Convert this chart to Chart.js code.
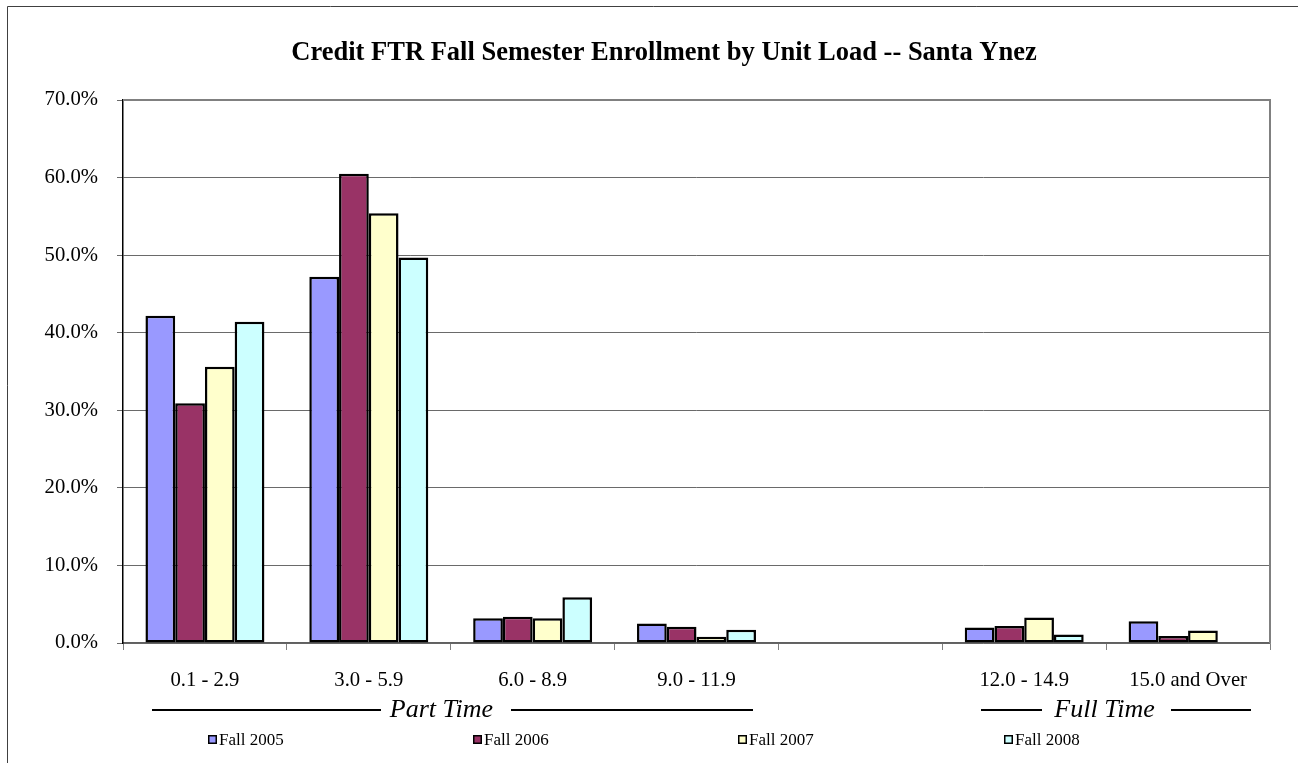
<!DOCTYPE html>
<html>
<head>
<meta charset="utf-8">
<script src="https://cdn.jsdelivr.net/npm/chart.js@4.4.1/dist/chart.umd.min.js"></script>
<style>
  html, body { margin: 0; padding: 0; background: #ffffff; }
  #wrap { width: 1298px; height: 763px; position: relative; }
</style>
</head>
<body>
<div id="wrap"><canvas id="c" width="1298" height="763"></canvas></div>
<script>
const TITLE = 'Credit FTR Fall Semester Enrollment by Unit Load -- Santa Ynez';
const categories = ['0.1 - 2.9', '3.0 - 5.9', '6.0 - 8.9', '9.0 - 11.9', '', '12.0 - 14.9', '15.0 and Over'];
const seriesNames = ['Fall 2005', 'Fall 2006', 'Fall 2007', 'Fall 2008'];
const fall2005 = [42.2, 47.2, 3.2, 2.5, null, 2.0, 2.8];
const fall2006 = [30.9, 60.5, 3.4, 2.1, null, 2.2, 0.9];
const fall2007 = [35.6, 55.4, 3.2, 0.8, null, 3.3, 1.6];
const fall2008 = [41.4, 49.7, 5.9, 1.7, null, 1.1, null];
const yTicks = [0, 10, 20, 30, 40, 50, 60, 70];
const groupLabels = ['Part Time', 'Full Time'];
const colors = ['#9999FF', '#993366', '#FFFFCC', '#CCFFFF'];

const FONT = "'Liberation Serif', 'Times New Roman', serif";

const decorations = {
  id: 'decorations',
  beforeDraw(chart) {
    const ctx = chart.ctx;
    ctx.save();
    ctx.fillStyle = '#ffffff';
    ctx.fillRect(0, 0, chart.width, chart.height);
    ctx.restore();
  },
  afterDraw(chart) {
    const ctx = chart.ctx;
    const a = chart.chartArea;
    ctx.save();
    // outer chart border
    ctx.strokeStyle = '#404040';
    ctx.lineWidth = 1;
    ctx.beginPath();
    ctx.moveTo(7.5, 770);
    ctx.lineTo(7.5, 6.5);
    ctx.lineTo(1310, 6.5);
    ctx.stroke();
    // title
    ctx.fillStyle = '#000000';
    ctx.font = 'bold 26.5px ' + FONT;
    ctx.textAlign = 'center';
    ctx.textBaseline = 'alphabetic';
    ctx.fillText(TITLE, 664, 60);
    // plot frame top & right
    ctx.strokeStyle = '#808080';
    ctx.lineWidth = 2;
    ctx.beginPath();
    ctx.moveTo(a.left, a.top);
    ctx.lineTo(a.right, a.top);
    ctx.lineTo(a.right, a.bottom);
    ctx.stroke();
    // group annotations
    ctx.fillStyle = '#000000';
    ctx.strokeStyle = '#000000';
    ctx.lineWidth = 2;
    ctx.font = 'italic 26px ' + FONT;
    ctx.textAlign = 'center';
    ctx.textBaseline = 'alphabetic';
    const groups = [
      { label: groupLabels[0], cx: 441.5, l1: [152, 381], l2: [511, 753] },
      { label: groupLabels[1], cx: 1104.5, l1: [981, 1042], l2: [1171, 1251] }
    ];
    groups.forEach(g => {
      ctx.beginPath();
      ctx.moveTo(g.l1[0], 710);
      ctx.lineTo(g.l1[1], 710);
      ctx.moveTo(g.l2[0], 710);
      ctx.lineTo(g.l2[1], 710);
      ctx.stroke();
      ctx.fillText(g.label, g.cx, 717);
    });
    // legend
    const lx = [208, 473, 738, 1004];
    ctx.font = '17px ' + FONT;
    ctx.textAlign = 'left';
    ctx.textBaseline = 'middle';
    chart.data.datasets.forEach((ds, i) => {
      ctx.fillStyle = ds.backgroundColor;
      ctx.fillRect(lx[i], 735, 9, 9);
      ctx.strokeStyle = '#000000';
      ctx.lineWidth = 1.5;
      ctx.strokeRect(lx[i] + 0.75, 735.75, 7.5, 7.5);
      ctx.fillStyle = '#000000';
      ctx.fillText(ds.label, lx[i] + 11, 740.5);
    });
    ctx.restore();
  }
};

const datasets = [fall2005, fall2006, fall2007, fall2008].map((d, i) => ({
  label: seriesNames[i],
  data: d,
  backgroundColor: colors[i],
  borderColor: '#000000',
  borderWidth: 2.5,
  borderSkipped: false,
  categoryPercentage: 0.726,
  barPercentage: 1.0
}));

new Chart(document.getElementById('c'), {
  type: 'bar',
  data: { labels: categories, datasets },
  plugins: [decorations],
  options: {
    responsive: false,
    animation: false,
    devicePixelRatio: 1,
    layout: { padding: { left: 0, right: 28, top: 100, bottom: 0 } },
    plugins: {
      legend: { display: false },
      tooltip: { enabled: false },
      title: { display: false }
    },
    scales: {
      x: {
        offset: true,
        grid: { display: true, offset: true, drawOnChartArea: false, drawTicks: true, tickLength: 7, color: '#808080', lineWidth: 1 },
        border: { display: true, color: '#606060', width: 1.5 },
        ticks: { color: '#000000', font: { family: FONT, size: 20.7 }, padding: 18, maxRotation: 0, autoSkip: false },
        afterFit(scale) { scale.height = 120; }
      },
      y: {
        min: 0,
        max: 70,
        afterBuildTicks(scale) { scale.ticks = yTicks.map(v => ({ value: v })); },
        grid: { color: '#6a6a6a', lineWidth: 1, tickLength: 6, drawTicks: true },
        border: { display: true, color: '#000000', width: 1.5 },
        ticks: {
          color: '#000000',
          font: { family: FONT, size: 20.7 },
          padding: 19,
          callback: v => v.toFixed(1) + '%'
        },
        afterFit(scale) { scale.width = 123; }
      }
    }
  }
});
</script>
</body>
</html>
